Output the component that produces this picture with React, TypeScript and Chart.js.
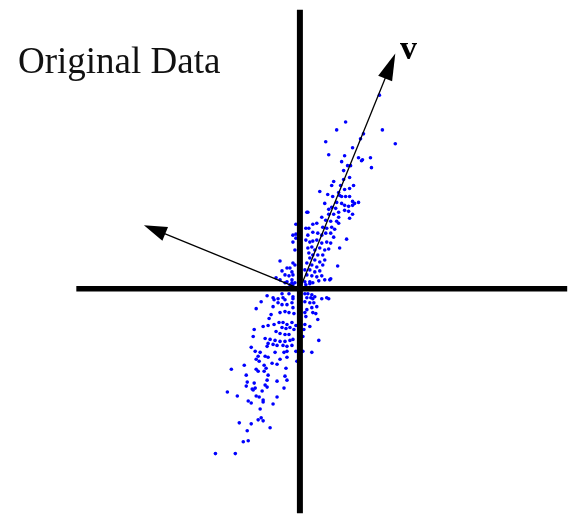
import React, { useEffect, useRef } from "react";
import { Chart, registerables } from "chart.js";

Chart.register(...registerables);

// Sample values (x, y), in data units
const SAMPLE_X = [
  8.0, 4.6, 3.7, 8.3, 2.6, 9.6, 6.1, 6.4, 5.3, 2.9, 4.5, 5.9, 7.1, 6.3, 6.2, 4.2, 4.8, 5.1, 7.2, 4.4,
  5.0, 4.4, 3.4, 3.2, 5.4, 4.1, 2.0, 3.9, 4.5, 5.0, 2.8, 4.0, 3.3, 4.2, 4.6, 5.0, 5.3, 5.9, 2.5, 3.7,
  4.2, 4.5, 4.9, 5.3, 3.2, 2.9, 3.6, 3.9, 4.5, 4.9, 3.4, 5.3, 2.9, 0.7, 0.8,
  5.5, 3.9, 2.2, 2.6, 3.1, 3.7, 3.9, 1.3, 1.7, 2.3, 2.7, 3.2, 3.5, 0.9, 0.6, 1.3, 1.8, 2.2, 2.6, 3.1,
  3.4, -0.7, -0.4, -0.7, -0.4, 0.8, 0.6, 1.0, 1.3, 1.7, 2.2, 2.7, 3.1, 4.7, 4.0, -0.5, 0.8, 1.2, 1.5,
  2.0, 2.5, 2.9, 0.9, 1.3, 1.8, 2.3, 1.0, 1.5, 2.0, 2.5, 3.8, -2.0, -0.7, -0.5, 0.7, 1.2, 1.7, 2.3,
  -1.3, -1.0, -0.8, 0.5, 1.0, 1.5, 2.0, 3.1, -1.8, -1.5, -1.1, -0.7, 0.7, 1.2, 1.7, 2.2, -2.0, -1.3,
  -0.8, -0.5, 0.5, 1.0, 1.3, -0.7, -1.0, -1.5, 0.6, 2.5, 1.9, 3.0, 1.0, -0.8, -2.4, 5.0, -0.4,
  -2.7, -2.2, -1.7, -0.7, 0.7, 1.1, 1.3, 2.7,
  0.5, 0.8, 1.2, 1.5, 2.2, 2.9, 0.5, 1.0, 1.4, 1.7, 1.2, 0.7, 1.3, 1.6, 0.5, 0.6, 1.8, 1.0, 0.5, 0.4,
  0.3, 1.9, 0.3, 1.2, -0.3,
  -3.3, -1.8, -1.1, -0.7, -1.5, -2.6, -3.9, -4.4, -2.7, -2.2, -1.8, -1.3, -0.8, -0.7, -2.9, -3.1, -2.0,
  -1.5, -1.1, -0.6, -3.7, -3.2, -2.6, -2.1, -1.7, -1.3, -0.8, -0.4, -1.8, -1.4, -1.0, -0.6, -4.6, -2.4,
  -2.0, -1.5, -1.1, -4.7, -3.5, -3.0, -2.5, -2.0, -1.5, -1.0, -0.7, -3.2, -2.7, -2.3, -1.7, -1.3, -0.8,
  -3.3, -4.9, -4.5, -4.0, -1.6, -1.3, -2.5, -0.4, -4.2, -3.5, -3.2, -2.0, -1.3, -4.4, -2.8, -4.1, -3.6,
  -3.4, -2.3, -1.4, -6.9, -5.6, -4.4, -4.2, -5.4, -3.2, -1.5,
  -3.6, -5.3, -4.6, -3.3, -2.3, -1.3, -5.4, -3.5, -3.3, -4.8, -4.7, -4.5, -3.8, -1.6, -7.3, -6.3, -4.4,
  -4.1, -3.7, -2.3, -5.2, -4.9, -3.7, -2.7, -4.0, -3.9, -4.2, -3.7, -6.1, -4.9, -3.0, -5.3, -5.2, -5.7,
  -8.5, -6.5,
];

const SAMPLE_Y = [
  19.5, 16.8, 16.0, 16.0, 14.8, 14.6, 15.1, 15.6, 14.2, 13.5, 13.4, 13.2, 13.2, 13.0, 12.9, 12.8, 12.4, 12.4, 12.2, 11.9,
  11.2, 11.0, 10.8, 10.4, 10.4, 10.4, 9.8, 9.7, 10.0, 10.1, 9.5, 9.4, 9.3, 9.3, 9.3, 9.3, 8.8, 8.7, 8.6, 8.7,
  8.6, 8.4, 8.3, 8.4, 8.2, 8.0, 8.1, 7.7, 7.9, 7.8, 7.5, 7.5, 7.5, 7.7, 7.7,
  8.6, 7.2, 7.2, 6.9, 6.8, 6.8, 6.6, 6.5, 6.6, 6.2, 6.1, 6.2, 6.0, 6.1, 6.1, 5.7, 5.6, 5.4, 5.6, 5.6,
  5.2, 5.4, 5.5, 4.7, 5.1, 5.4, 4.9, 4.7, 4.8, 4.9, 4.6, 4.7, 4.6, 5.0, 4.1, 3.9, 4.1, 4.2, 3.9,
  4.1, 3.9, 4.0, 3.6, 3.4, 3.4, 3.4, 3.1, 2.9, 2.7, 2.9, 2.3, 2.8, 2.6, 2.4, 2.6, 2.4, 2.2, 2.4,
  2.1, 2.1, 1.7, 1.9, 1.9, 1.7, 1.8, 1.0, 1.8, 1.4, 1.3, 1.4, 1.4, 1.3, 1.2, 1.3, 0.9, 0.7,
  0.9, 0.6, 0.7, 0.7, 0.6, 0.4, 0.4, 0.6, 0.4, 0.9, 0.8, 0.9, 0.5, 0.6, 1.1, 7.1, 6.5,
  -0.9, -1.0, -0.9, -1.0, -0.9, -0.9, -1.0, -0.9,
  -0.5, -0.5, -0.6, -0.8, -1.0, -1.0, -1.3, -1.4, -1.4, -1.8, -1.9, -2.1, -2.4, -2.5, -2.4, -2.8, -3.1, -3.8, -3.6, -4.1,
  -4.8, -5.2, -6.3, -6.4, -7.3,
  -0.7, -0.5, -0.5, -0.8, -1.1, -1.1, -1.3, -2.0, -1.8, -1.4, -1.6, -1.6, -1.4, -1.9, -2.6, -3.0, -2.4,
  -2.3, -2.4, -2.5, -3.8, -3.7, -3.6, -3.4, -3.4, -3.6, -3.4, -3.7, -3.9, -4.0, -3.9, -4.1, -4.1, -4.3,
  -4.5, -4.6, -4.6, -4.8, -5.0, -5.1, -5.2, -5.3, -5.3, -5.2, -5.1, -5.5, -5.6, -5.7, -5.7, -5.8, -5.7,
  -5.8, -5.9, -6.3, -6.4, -6.4, -6.3, -6.4, -6.3, -6.8, -6.8, -6.9, -7.1, -6.9, -7.1, -7.5, -7.3, -7.7,
  -8.0, -7.6, -8.0, -8.1, -7.7, -8.1, -8.3, -8.7, -8.7, -8.8,
  -8.3, -9.4, -9.5, -9.2, -9.3, -9.2, -9.8, -9.7, -9.9, -10.1, -10.2, -10.0, -10.3, -10.0, -10.4, -10.8, -10.8,
  -10.9, -11.2, -10.9, -11.3, -11.5, -11.4, -11.6, -12.1, -13.0, -13.2, -13.3, -13.5, -13.6, -14.0, -14.3, -15.3, -15.4,
  -16.6, -16.6,
];

// Axis extents and principal-direction vectors (data units)
const AXIS_X_RANGE = [-22.5, 26.9];
const AXIS_Y_RANGE = [-22.6, 28.1];
const VIEW_X = [-30.0, 26.9];
const VIEW_Y = [-22.6, 28.9];
const VECTOR_V = [9.6, 23.7];
const VECTOR_W = [-15.7, 6.4];
const TITLE_TEXT = "Original Data";
const VECTOR_LABEL = "v";

function drawArrow(ctx: CanvasRenderingContext2D, x0: number, y0: number, x1: number, y1: number, headLen: number, headW: number) {
  const dx = x1 - x0;
  const dy = y1 - y0;
  const len = Math.hypot(dx, dy);
  const ux = dx / len;
  const uy = dy / len;
  const nx = -uy;
  const ny = ux;
  const bx = x1 - ux * headLen;
  const by = y1 - uy * headLen;
  ctx.beginPath();
  ctx.lineWidth = 1.3;
  ctx.moveTo(x0, y0);
  ctx.lineTo(bx + ux * 2, by + uy * 2);
  ctx.stroke();
  ctx.beginPath();
  ctx.moveTo(x1, y1);
  ctx.lineTo(bx + nx * headW / 2, by + ny * headW / 2);
  ctx.lineTo(bx - nx * headW / 2, by - ny * headW / 2);
  ctx.closePath();
  ctx.fill();
}

const overlayPlugin = {
  id: "pcaOverlay",
  afterDatasetsDraw(chart: any) {
    const { ctx } = chart;
    const xs = chart.scales.x;
    const ys = chart.scales.y;
    const px = (v: number) => xs.getPixelForValue(v);
    const py = (v: number) => ys.getPixelForValue(v);
    ctx.save();
    ctx.strokeStyle = "#000";
    ctx.fillStyle = "#000";
    ctx.lineCap = "butt";
    // horizontal axis
    ctx.beginPath();
    ctx.lineWidth = 5.5;
    ctx.moveTo(px(AXIS_X_RANGE[0]), py(0));
    ctx.lineTo(px(AXIS_X_RANGE[1]), py(0));
    ctx.stroke();
    // vertical axis
    ctx.beginPath();
    ctx.lineWidth = 6;
    ctx.moveTo(px(0), py(AXIS_Y_RANGE[1]));
    ctx.lineTo(px(0), py(AXIS_Y_RANGE[0]));
    ctx.stroke();
    // vectors
    drawArrow(ctx, px(0), py(0), px(VECTOR_V[0]), py(VECTOR_V[1]), 27, 15);
    drawArrow(ctx, px(0), py(0), px(VECTOR_W[0]), py(VECTOR_W[1]), 23, 15);
    // texts
    ctx.textBaseline = "alphabetic";
    ctx.textAlign = "left";
    ctx.font = '37px "Liberation Serif", "DejaVu Serif", serif';
    ctx.fillStyle = "#111";
    ctx.fillText(TITLE_TEXT, 18, 73);
    ctx.font = 'bold 34px "Liberation Serif", "DejaVu Serif", serif';
    ctx.fillStyle = "#000";
    ctx.fillText(VECTOR_LABEL, 400, 59);
    ctx.restore();
  },
};

export default function App() {
  const canvasRef = useRef<HTMLCanvasElement | null>(null);

  useEffect(() => {
    const canvas = canvasRef.current;
    if (!canvas) return;
    const points = SAMPLE_X.map((x, i) => ({ x, y: SAMPLE_Y[i] }));
    const chart = new Chart(canvas, {
      type: "scatter",
      data: {
        datasets: [
          {
            data: points,
            pointRadius: 1.8,
            pointBackgroundColor: "#0000ff",
            pointBorderWidth: 0,
            pointHoverRadius: 1.8,
          },
        ],
      },
      options: {
        responsive: false,
        animation: false,
        events: [],
        layout: { padding: 0 },
        plugins: { legend: { display: false }, tooltip: { enabled: false } },
        scales: {
          x: { type: "linear", display: false, min: VIEW_X[0], max: VIEW_X[1] },
          y: { type: "linear", display: false, min: VIEW_Y[0], max: VIEW_Y[1] },
        },
      },
      plugins: [overlayPlugin],
    });
    return () => chart.destroy();
  }, []);

  return (
    <div style={{ position: "fixed", left: 0, top: 0, width: 569, height: 515, background: "#fff" }}>
      <canvas ref={canvasRef} width={569} height={515} style={{ display: "block" }} />
    </div>
  );
}
